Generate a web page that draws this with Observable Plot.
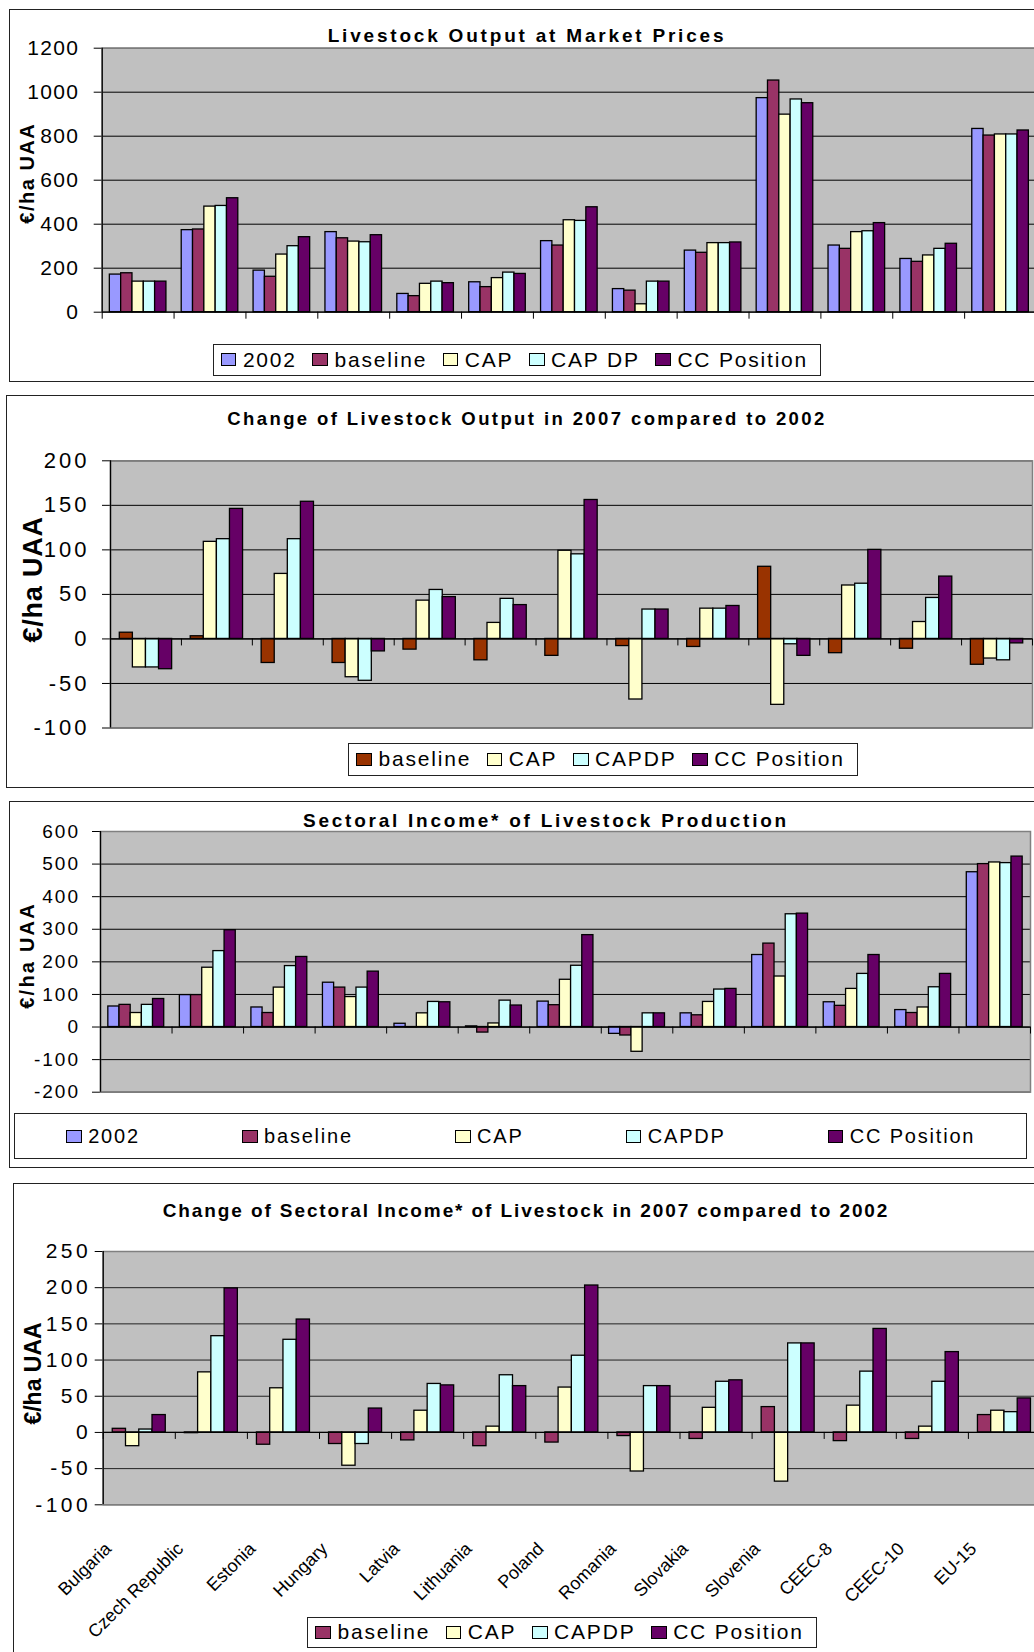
<!DOCTYPE html>
<html><head><meta charset="utf-8">
<script src="https://cdn.jsdelivr.net/npm/d3@7"></script>
<script src="https://cdn.jsdelivr.net/npm/@observablehq/plot@0.6"></script>
<style>
html,body{margin:0;padding:0;background:#fff;overflow:hidden;}
#page{position:relative;width:1034px;height:1652px;overflow:hidden;background:#fff;font-family:"Liberation Sans",Arial,Helvetica,sans-serif;color:#000;}
.panel{position:absolute;border:1.5px solid #222;box-sizing:border-box;}
.chart{position:absolute;left:0;}
.title{position:absolute;text-align:center;font-weight:bold;white-space:nowrap;}
.legend{position:absolute;border:1.3px solid #222;background:#fff;display:flex;align-items:center;box-sizing:border-box;white-space:nowrap;}
.item{display:flex;align-items:center;}
.sw{width:15.7px;height:13px;border:1.5px solid #000;box-sizing:border-box;margin-right:6.5px;flex:none;}
#c1 [aria-label^="y-axis"] text{letter-spacing:1.3px;}
#c2 [aria-label^="y-axis"] text{letter-spacing:3px;}
#c3 [aria-label^="y-axis"] text{letter-spacing:2px;}
#c4 [aria-label^="y-axis"] text{letter-spacing:3.5px;}
#c1 g[aria-label="text"] text{letter-spacing:1.5px;}
#c2 g[aria-label="text"] text{letter-spacing:0.8px;}
#c3 g[aria-label="text"] text{letter-spacing:2.2px;}
</style>
</head><body><div id="page"></div>
<script>
// ---------- data ----------
const categories = ["Bulgaria","Czech Republic","Estonia","Hungary","Latvia","Lithuania","Poland","Romania","Slovakia","Slovenia","CEEC-8","CEEC-10","EU-15"];

// Panel 1: Livestock Output at Market Prices (€/ha UAA)
const series1 = ["2002","baseline","CAP","CAP DP","CC Position"];
const out2002     = [171, 373, 189, 364,  83, 136, 323, 105, 280,  973, 303, 242, 833];
const outBaseline = [177, 376, 161, 336,  73, 114, 303,  98, 270, 1053, 288, 229, 803];
const outCAP      = [139, 480, 262, 321, 129, 155, 418,  36, 314,  898, 364, 258, 808];
const outCAPDP    = [139, 483, 300, 318, 139, 180, 415, 139, 314,  967, 368, 288, 808];
const outCC       = [139, 518, 341, 350, 132, 174, 477, 139, 317,  950, 405, 311, 826];
const yTicks1 = [0, 200, 400, 600, 800, 1000, 1200];

// Panel 2: Change of Livestock Output in 2007 compared to 2002
const series2 = ["baseline","CAP","CAPDP","CC Position"];
const chgBaseline = [  7,   3, -27, -27, -12, -24, -19,  -8,  -9,  81, -16, -11, -29];
const chgCAP      = [-32, 109,  73, -43,  43,  18,  99, -68,  34, -74,  60,  19, -22];
const chgCAPDP    = [-32, 112, 112, -47,  55,  45,  95,  33,  34,  -6,  62,  46, -24];
const chgCC       = [-34, 146, 154, -14,  47,  38, 156,  33,  37, -19, 100,  70,  -5];
const yTicks2 = [-100, -50, 0, 50, 100, 150, 200];

// Panel 3: Sectoral Income* of Livestock Production
const series3 = ["2002","baseline","CAP","CAPDP","CC Position"];
const inc2002     = [63,  98,  60, 136, 10,   2,  78, -21,  42, 221,  76,  52, 475];
const incBaseline = [68,  98,  43, 121, -1, -17,  67, -26,  36, 256,  65,  43, 500];
const incCAP      = [43, 182, 121,  92, 42,  11, 145, -76,  77, 155, 117,  60, 505];
const incCAPDP    = [68, 233, 187, 121, 77,  81, 188,  42, 115, 346, 163, 122, 503];
const incCC       = [86, 297, 215, 170, 76,  66, 282,  42, 117, 348, 221, 163, 523];
const yTicks3 = [-200, -100, 0, 100, 200, 300, 400, 500, 600];

// Panel 4: Change of Sectoral Income* of Livestock in 2007 compared to 2002
const series4 = ["baseline","CAP","CAPDP","CC Position"];
const ciBaseline = [  5,  -1, -17, -16, -11, -19, -14,  -5,  -9,  35, -12,  -9, 24];
const ciCAP      = [-19,  83,  61, -46,  30,   8,  62, -54,  34, -68,  37,   8, 30];
const ciCAPDP    = [  4, 133, 128, -16,  67,  79, 106,  64,  70, 123,  84,  70, 28];
const ciCC       = [ 24, 199, 156,  33,  65,  64, 203,  64,  72, 123, 143, 111, 47];
const yTicks4 = [-100, -50, 0, 50, 100, 150, 200, 250];

const colorsA = ["#9999FF","#993366","#FFFFCC","#CCFFFF","#660066"];
const colorsB = ["#993300","#FFFFCC","#CCFFFF","#660066"];
const colorsC = ["#993366","#FFFFCC","#CCFFFF","#660066"];

// ---------- drawing ----------
const FONT = '"Liberation Sans", Arial, Helvetica, sans-serif';
const page = document.getElementById("page");

function addDiv(cls, css, html) {
  const d = document.createElement("div");
  d.className = cls;
  Object.assign(d.style, css);
  if (html != null) d.textContent = html;
  page.appendChild(d);
  return d;
}

function drawChart(o) {
  const rows = o.series.flatMap((s, si) => o.values[si].map((v, ci) => ({cat: categories[ci], ci, series: s, value: v})));
  const inner = d3.scaleBand().domain(o.series).range([0, 1]).paddingInner(0).paddingOuter(o.pad);
  const marks = [
    Plot.frame({fill: "#c0c0c0"}),
    Plot.ruleY(o.yTicks, {stroke: o.grid, strokeWidth: 1}),
    Plot.frame({stroke: "#808080", strokeWidth: 1.5}),
    Plot.rect(rows, {
      x1: d => d.ci + inner(d.series),
      x2: d => d.ci + inner(d.series) + inner.bandwidth(),
      y1: d => 0, y2: "value",
      fill: "series", stroke: "#000", strokeWidth: 1.3
    }),
    Plot.ruleY([0], {stroke: "#000", strokeWidth: 1.3}),
    Plot.ruleX(d3.range(categories.length + 1), {y1: d => 0, y2: d => 0, insetBottom: -7, stroke: "#000", strokeWidth: 1}),
    Plot.ruleX([0], {stroke: "#000", strokeWidth: 1.3}),
    Plot.text([o.yTitle], {frameAnchor: "left", rotate: -90, textAnchor: "middle", lineAnchor: "bottom", dx: o.titleDx, dy: o.titleDy,
      fontWeight: "bold", fontSize: o.titleSize, fill: "#000"})
  ];
  if (o.xLabels) {
    marks.push(Plot.text(categories, {x: (d, i) => i + 0.5, frameAnchor: "bottom", rotate: -45, textAnchor: "end",
      lineAnchor: "top", dx: -36, dy: 36, fontSize: 18, fill: "#000"}));
  }
  const svg = Plot.plot({
    width: o.width, height: o.height,
    marginLeft: o.ml, marginRight: o.mr, marginTop: o.mt, marginBottom: o.mb,
    style: {background: "transparent", maxWidth: "none", fontFamily: FONT, fontSize: o.tickSize + "px", color: "#000", overflow: "visible"},
    x: {domain: [0, categories.length], axis: null},
    y: {domain: [o.yTicks[0], o.yTicks[o.yTicks.length - 1]], ticks: o.yTicks, tickSize: 8, tickPadding: o.tickPad, tickFormat: d => String(d), label: null},
    color: {domain: o.series, range: o.colors},
    marks
  });
  const wrap = addDiv("chart", {top: o.top + "px", width: o.width + "px"});
  wrap.id = o.id;
  wrap.appendChild(svg);
}

function drawTitle(text, cx, top, size, ls) {
  addDiv("title", {left: (cx - 500) + "px", width: "1000px", top: top + "px", fontSize: size + "px", lineHeight: size + "px", letterSpacing: ls + "px"}, text);
}

function drawLegend(o) {
  const lg = addDiv("legend", {left: o.left + "px", top: o.top + "px", width: o.width + "px", height: o.height + "px",
    justifyContent: o.spread ? "space-around" : "flex-start", paddingLeft: o.spread ? "0" : "7px"});
  o.series.forEach((s, i) => {
    const it = document.createElement("div");
    it.className = "item";
    if (!o.spread && i < o.series.length - 1) it.style.marginRight = "15.5px";
    const sw = document.createElement("div");
    sw.className = "sw";
    sw.style.background = o.colors[i];
    const tx = document.createElement("span");
    tx.textContent = s;
    tx.style.fontSize = o.fontSize + "px";
    tx.style.letterSpacing = o.ls + "px";
    it.appendChild(sw); it.appendChild(tx);
    lg.appendChild(it);
  });
}

// panel frames
addDiv("panel", {left: "9px", top: "9px", width: "1040px", height: "373px"});
addDiv("panel", {left: "6px", top: "395px", width: "1040px", height: "393px"});
addDiv("panel", {left: "9px", top: "801px", width: "1040px", height: "367px"});
addDiv("panel", {left: "12.5px", top: "1183px", width: "1040px", height: "480px"});

drawChart({id: "c1", top: 30, width: 1040, height: 300, ml: 101.7, mr: 4, mt: 17.7, mb: 18.3,
  series: series1, colors: colorsA, values: [out2002, outBaseline, outCAP, outCAPDP, outCC],
  yTicks: yTicks1, pad: 0.675, grid: "#000", tickSize: 21, tickPad: 15,
  yTitle: "€/ha UAA", titleSize: 20, titleDx: -68.4, titleDy: -7});
drawChart({id: "c2", top: 440, width: 1040, height: 300, ml: 110, mr: 8, mt: 20.3, mb: 12.5,
  series: series2, colors: colorsB, values: [chgBaseline, chgCAP, chgCAPDP, chgCC],
  yTicks: yTicks2, pad: 0.71, grid: "#000", tickSize: 22, tickPad: 13,
  yTitle: "€/ha UAA", titleSize: 27, titleDx: -68.3, titleDy: -15});
drawChart({id: "c3", top: 815, width: 1040, height: 290, ml: 100, mr: 10, mt: 16, mb: 13.3,
  series: series3, colors: colorsA, values: [inc2002, incBaseline, incCAP, incCAPDP, incCC],
  yTicks: yTicks3, pad: 0.7, grid: "#000", tickSize: 19, tickPad: 12.5,
  yTitle: "€/ha UAA", titleSize: 20, titleDx: -66.7, titleDy: -6.4});
drawChart({id: "c4", top: 1235, width: 1044, height: 420, ml: 102.7, mr: 4, mt: 16, mb: 150.7,
  series: series4, colors: colorsC, values: [ciBaseline, ciCAP, ciCAPDP, ciCC],
  yTicks: yTicks4, pad: 0.72, grid: "#222", tickSize: 21, tickPad: 4,
  yTitle: "€/ha UAA", titleSize: 23, titleDx: -62, titleDy: -4.7, xLabels: true});

drawTitle("Livestock Output at Market Prices", 527, 25.6, 19, 2.8);
drawTitle("Change of Livestock Output in 2007 compared to 2002", 527, 410.3, 18.5, 2.4);
drawTitle("Sectoral Income* of Livestock Production", 546, 810.6, 19, 2.75);
drawTitle("Change of Sectoral Income* of Livestock in 2007 compared to 2002", 526, 1200.6, 19, 1.9);

drawLegend({left: 212.7, top: 344, width: 608.5, height: 31.5, series: series1, colors: colorsA, fontSize: 21, ls: 1.8});
drawLegend({left: 348.3, top: 743.3, width: 509.4, height: 32.4, series: series2, colors: colorsB, fontSize: 21, ls: 1.8});
drawLegend({left: 14, top: 1113.3, width: 1013.3, height: 46, series: series3, colors: colorsA, fontSize: 20, ls: 1.8, spread: true});
drawLegend({left: 307.3, top: 1616.7, width: 510, height: 31, series: series4, colors: colorsC, fontSize: 21, ls: 1.8});
</script>
</body></html>
